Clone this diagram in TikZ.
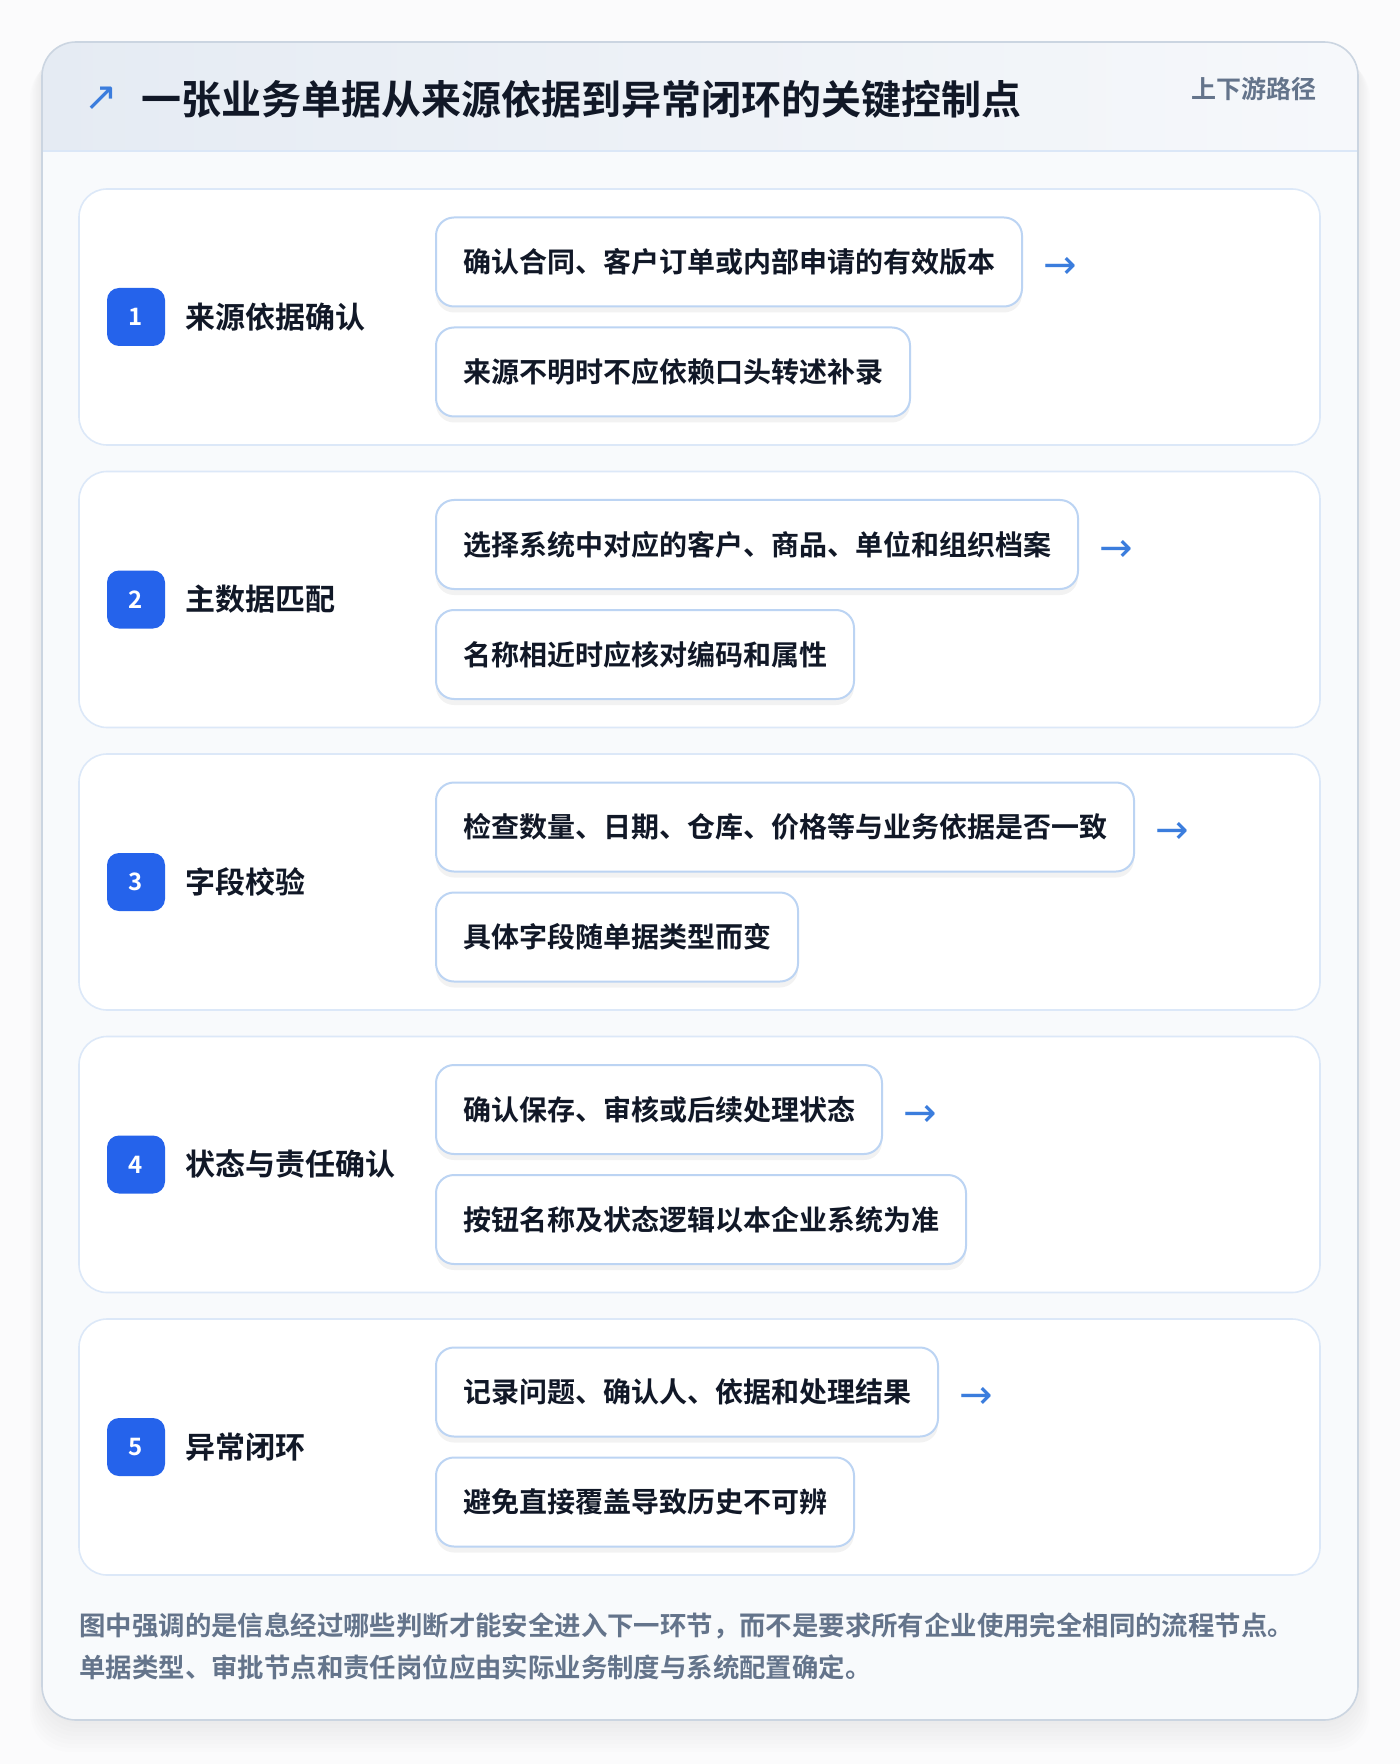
\documentclass[tikz,border=0pt]{standalone}
\usepackage{fontspec}
\setmainfont{Noto Sans CJK SC}[BoldFont={* Bold}]
\newfontfamily\symfont{DejaVu Sans}
\usetikzlibrary{positioning,shadows}

\definecolor{pagebg}{HTML}{FBFBFC}
\definecolor{cardbg}{HTML}{F8FAFC}
\definecolor{cardline}{HTML}{CBD5E1}
\definecolor{headl}{HTML}{E5EBF3}
\definecolor{headr}{HTML}{F6F8FB}
\definecolor{headline}{HTML}{DBE7F7}
\definecolor{panelline}{HTML}{DCE8F8}
\definecolor{boxline}{HTML}{BCD4F3}
\definecolor{badgeblue}{HTML}{2563EB}
\definecolor{arrowblue}{HTML}{3B7DDD}
\definecolor{ink}{HTML}{111827}
\definecolor{slate}{HTML}{64748B}

\begin{document}
\begin{tikzpicture}[x=0.5pt,y=-0.5pt,
		panel/.style={draw=panelline, line width=0.8pt, fill=white, rounded corners=14pt},
		badge/.style={fill=badgeblue, rounded corners=6pt, minimum width=29pt, minimum height=29pt, inner sep=0pt, text=white, font=\bfseries\fontsize{12}{12}\selectfont},
		steplabel/.style={anchor=west, inner sep=0pt, text=ink, font=\bfseries\fontsize{15}{15}\selectfont},
		notebox/.style={draw=boxline, line width=1pt, fill=white, rounded corners=9pt, anchor=west, minimum height=44.5pt, inner xsep=13.5pt, inner ysep=0pt, text=ink, font=\bfseries\fontsize{14}{14}\selectfont,
			drop shadow={shadow xshift=0pt, shadow yshift=-3pt, opacity=0.05, fill=black}},
		nextarrow/.style={text=arrowblue, inner sep=0pt, font=\symfont\fontsize{20}{20}\selectfont},
		footnote/.style={anchor=west, inner sep=0pt, text=slate, font=\bfseries\fontsize{13.2}{13.2}\selectfont}
	]
		\useasboundingbox (0,0) rectangle (1400,1764);
		\fill [pagebg] (0,0) rectangle (1400,1764);
		% soft shadow of the card
		\foreach \s in {1,...,8}
		{
			\fill [black, opacity=0.008, rounded corners=20pt] (42-\s*1.5,42+\s*2) rectangle (1358+\s*1.5,1720+\s*4);
		}
		\fill [cardbg, rounded corners=17pt] (42,42) rectangle (1358,1720);
		\begin{scope}
			\clip [rounded corners=17pt] (42,42) rectangle (1358,1720);
			\fill [left color=headl, right color=headr] (42,42) rectangle (1358,151);
			\draw [headline, line width=1pt] (42,151) -- (1358,151);
		\end{scope}
		\draw [cardline, line width=0.8pt, rounded corners=17pt] (42,42) rectangle (1358,1720);
		
		% header
		\node [text=arrowblue, inner sep=0pt, font=\symfont\fontsize{20}{20}\selectfont] (icon) at (101,99) {↗};
		\node [anchor=west, inner sep=0pt, text=ink, font=\bfseries\fontsize{20}{20}\selectfont] (title) at (141,99) {一张业务单据从来源依据到异常闭环的关键控制点};
		\node [anchor=east, inner sep=0pt, text=slate, font=\bfseries\fontsize{12.5}{12.5}\selectfont] (route) at (1317,89) {上下游路径};
		
		% steps
		\foreach \n/\name/\first/\second in {
			1/来源依据确认/确认合同、客户订单或内部申请的有效版本/来源不明时不应依赖口头转述补录,
			2/主数据匹配/选择系统中对应的客户、商品、单位和组织档案/名称相近时应核对编码和属性,
			3/字段校验/检查数量、日期、仓库、价格等与业务依据是否一致/具体字段随单据类型而变,
			4/状态与责任确认/确认保存、审核或后续处理状态/按钮名称及状态逻辑以本企业系统为准,
			5/异常闭环/记录问题、确认人、依据和处理结果/避免直接覆盖导致历史不可辨}
		{
			\pgfmathsetmacro\cy{317+(\n-1)*282.5}
			\draw [panel] (79,\cy-128) rectangle (1320,\cy+128);
			\coordinate (panel\n) at (79,\cy);
			\node [badge] (badge\n) at (136,\cy) {\n};
			\node [steplabel] (label\n) at (185,\cy) {\name};
			\node [notebox] (first\n) at (435,\cy-55) {\first};
			\node [notebox] (second\n) at (435,\cy+55) {\second};
			\node [nextarrow, right=10pt of first\n.east, yshift=-3pt] (next\n) {→};
		}
		
		% note under the steps
		\node [footnote] (note1) at (79,1626) {图中强调的是信息经过哪些判断才能安全进入下一环节，而不是要求所有企业使用完全相同的流程节点。};
		\node [footnote] (note2) at (79,1667) {单据类型、审批节点和责任岗位应由实际业务制度与系统配置确定。};
		
	\end{tikzpicture}
\end{document}
